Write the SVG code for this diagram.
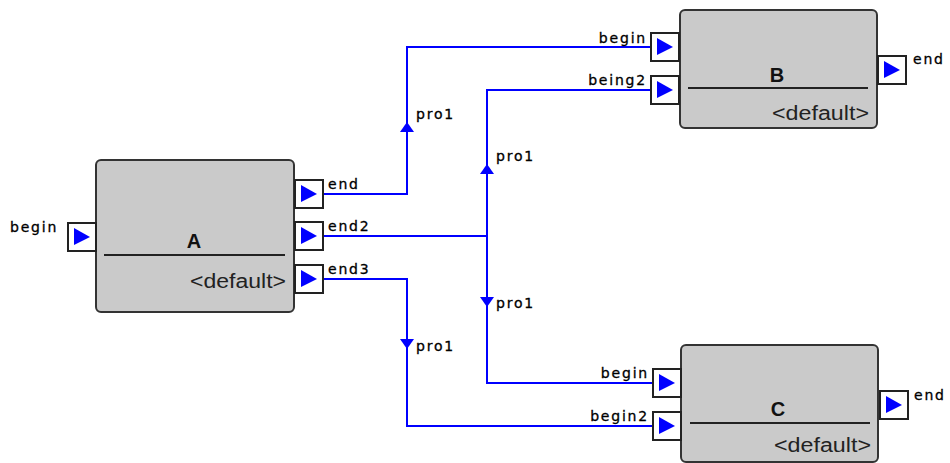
<svg xmlns="http://www.w3.org/2000/svg" width="950" height="463" viewBox="0 0 950 463">
<style>
.body{fill:#cacaca;stroke:#333;stroke-width:2}
.sep{stroke:#222;stroke-width:2}
.port{fill:#fff;stroke:#222;stroke-width:2}
.tri{fill:#0000ff}
.title{font-family:"Liberation Sans",Arial,sans-serif;font-weight:bold;font-size:20px;fill:#111;text-anchor:middle}
.def{font-family:"Liberation Sans",Arial,sans-serif;font-size:20px;fill:#222;text-anchor:end}
.lbl{font-family:"DejaVu Sans",sans-serif;font-size:14px;letter-spacing:1.8px;fill:#000;stroke:#000;stroke-width:0.3}
.r{text-anchor:end}
.wire{fill:none;stroke:#0000ff;stroke-width:2}
.arr{fill:#0000ff}
</style>
<defs>
<g id="pt"><rect class="port" x="0" y="0" width="28" height="28"/><polygon class="tri" points="6,5 22,14 6,22"/></g>
</defs>
<g id="connectors">
<path class="wire" d="M323,194 H407 V47 H651"/>
<path class="wire" d="M323,236 H487"/>
<path class="wire" d="M651,90 H487 V383 H653"/>
<path class="wire" d="M323,279 H407 V426 H653"/>
<polygon class="arr" points="407,122 400,132 414,132"/>
<polygon class="arr" points="487,164 480,174 494,174"/>
<polygon class="arr" points="487,307 480,297 494,297"/>
<polygon class="arr" points="407,349 400,339 414,339"/>
<text class="lbl" x="416" y="119">pro1</text>
<text class="lbl" x="496" y="161">pro1</text>
<text class="lbl" x="496" y="308">pro1</text>
<text class="lbl" x="416" y="351">pro1</text>
</g>
<g id="A">
<rect class="body" x="96" y="160" width="198" height="152" rx="5"/>
<line class="sep" x1="104" y1="255" x2="285" y2="255"/>
<text class="title" x="194" y="248">A</text>
<text class="def" x="286" y="288" textLength="96" lengthAdjust="spacingAndGlyphs">&lt;default&gt;</text>
<use href="#pt" x="68" y="223"/>
<text class="lbl" x="10" y="232">begin</text>
<use href="#pt" x="295" y="180"/>
<text class="lbl" x="328" y="189">end</text>
<use href="#pt" x="295" y="222"/>
<text class="lbl" x="328" y="231">end2</text>
<use href="#pt" x="295" y="265"/>
<text class="lbl" x="328" y="274">end3</text>
</g>
<g id="B">
<rect class="body" x="680" y="10" width="197" height="118" rx="5"/>
<line class="sep" x1="688" y1="88" x2="868" y2="88"/>
<text class="title" x="777" y="82">B</text>
<text class="def" x="869" y="120" textLength="97" lengthAdjust="spacingAndGlyphs">&lt;default&gt;</text>
<use href="#pt" x="651" y="33"/>
<text class="lbl r" x="647" y="43">begin</text>
<use href="#pt" x="651" y="76"/>
<text class="lbl r" x="647" y="85">being2</text>
<use href="#pt" x="878" y="56"/>
<text class="lbl" x="913" y="64">end</text>
</g>
<g id="C">
<rect class="body" x="681" y="345" width="197" height="117" rx="5"/>
<line class="sep" x1="690" y1="423" x2="870" y2="423"/>
<text class="title" x="778" y="416">C</text>
<text class="def" x="871" y="452" textLength="97" lengthAdjust="spacingAndGlyphs">&lt;default&gt;</text>
<use href="#pt" x="653" y="369"/>
<text class="lbl r" x="649" y="378">begin</text>
<use href="#pt" x="653" y="412"/>
<text class="lbl r" x="649" y="421">begin2</text>
<use href="#pt" x="880" y="391"/>
<text class="lbl" x="914" y="400">end</text>
</g>
</svg>
